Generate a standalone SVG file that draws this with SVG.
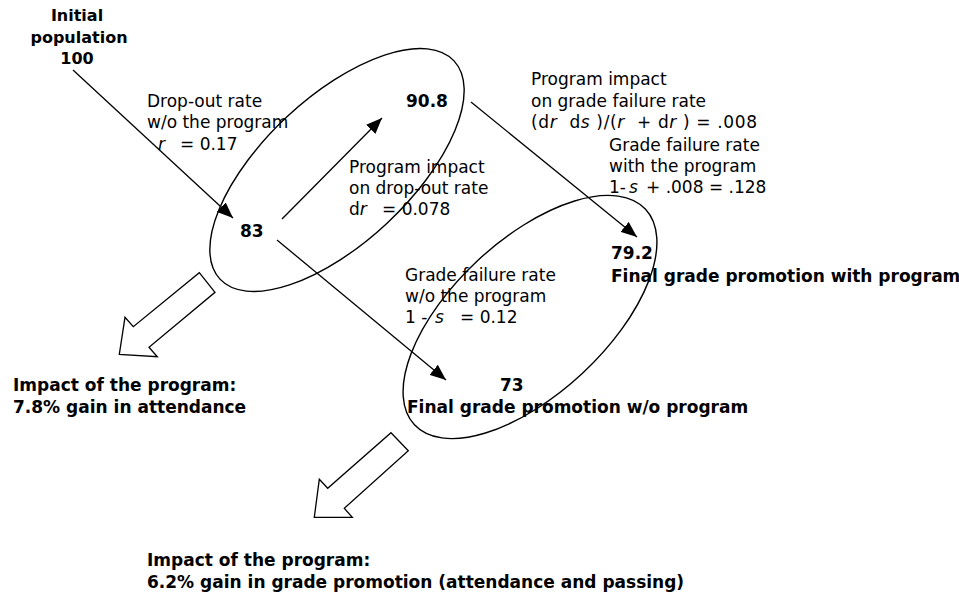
<svg xmlns="http://www.w3.org/2000/svg" width="959" height="594" viewBox="0 0 959 594">
<defs>
<style>
text{font-family:"DejaVu Sans",Verdana,sans-serif;font-size:17px;fill:#000}
.b{font-weight:bold}
.i{font-style:italic}
.s16{font-size:16px}
.ln{stroke:#000;stroke-width:1.3;fill:none}
.el{stroke:#000;stroke-width:1.4;fill:none}
.blk{stroke:#000;stroke-width:1.3;fill:#fff;stroke-linejoin:miter}
</style>
<marker id="ah" markerUnits="userSpaceOnUse" markerWidth="17" markerHeight="13" refX="16" refY="6.5" orient="auto">
<path d="M0,0 L16,6.5 L0,13 z" fill="#000"/>
</marker>
</defs>
<rect width="959" height="594" fill="#fff"/>
<g id="ellipses">
<ellipse id="ellipse-attendance" class="el" cx="337" cy="170" rx="160" ry="73" transform="rotate(-43 337 170)"/>
<ellipse id="ellipse-promotion" class="el" cx="530" cy="317" rx="158" ry="77" transform="rotate(-43 530 317)"/>
</g>
<g id="connectors">
<line class="ln" x1="73" y1="70" x2="233" y2="218" marker-end="url(#ah)"/>
<line class="ln" x1="282" y1="219" x2="382" y2="118" marker-end="url(#ah)"/>
<line class="ln" x1="471" y1="102" x2="637" y2="237" marker-end="url(#ah)"/>
<line class="ln" x1="277" y1="240" x2="446" y2="380" marker-end="url(#ah)"/>
</g>
<g id="impact-arrows">
<polygon class="blk" points="199.3,272.7 215,292.3 149,347.3 157.3,356.7 119.3,354.3 125,317.3 133.3,326.7"/>
<polygon class="blk" points="391,432.7 408.3,450.7 344.3,508.3 352.3,517.3 314.3,517.3 319.3,479.3 327.7,488.3"/>
</g>
<g id="node-initial">
<text class="b s16" text-anchor="middle"><tspan x="77" y="21">Initial</tspan><tspan x="79" y="43">population</tspan><tspan x="77" y="64">100</tspan></text>
</g>
<g id="label-dropout">
<text><tspan x="147" y="107">Drop-out rate</tspan><tspan x="147" y="128">w/o the program</tspan></text>
<text y="150"><tspan class="i" x="158">r</tspan><tspan x="180">= 0.17</tspan></text>
</g>
<g id="node-83"><text class="b" x="240" y="237">83</text></g>
<g id="node-90-8"><text class="b" x="406" y="107">90.8</text></g>
<g id="label-impact-dropout">
<text><tspan x="349" y="173">Program impact</tspan><tspan x="349" y="194">on drop-out rate</tspan></text>
<text y="215"><tspan x="349">d</tspan><tspan class="i">r</tspan><tspan x="382">= 0.078</tspan></text>
</g>
<g id="label-impact-failure">
<text><tspan x="531" y="85">Program impact</tspan><tspan x="531" y="107">on grade failure rate</tspan></text>
<text x="531" y="128" xml:space="preserve" textLength="226" lengthAdjust="spacing">(d<tspan class="i">r</tspan>  d<tspan class="i">s</tspan> )/(<tspan class="i">r</tspan>  + d<tspan class="i">r</tspan> ) = .008</text>
</g>
<g id="label-failure-with">
<text><tspan x="609" y="151">Grade failure rate</tspan><tspan x="609" y="172">with the program</tspan></text>
<text y="193"><tspan x="609">1-</tspan><tspan class="i" x="629">s</tspan><tspan x="646">+ .008 = .128</tspan></text>
</g>
<g id="node-79-2">
<text class="b"><tspan x="611" y="259">79.2</tspan><tspan x="611" y="282">Final grade promotion with program</tspan></text>
</g>
<g id="label-failure-without">
<text><tspan x="405" y="281">Grade failure rate</tspan><tspan x="405" y="302">w/o the program</tspan></text>
<text y="323"><tspan x="405">1 -</tspan><tspan class="i" x="435">s</tspan><tspan x="460">= 0.12</tspan></text>
</g>
<g id="node-73">
<text class="b"><tspan x="500" y="391">73</tspan><tspan x="407" y="413">Final grade promotion w/o program</tspan></text>
</g>
<g id="impact-attendance">
<text class="b"><tspan x="13" y="391">Impact of the program:</tspan><tspan x="13" y="413">7.8% gain in attendance</tspan></text>
</g>
<g id="impact-promotion">
<text class="b"><tspan x="147" y="566">Impact of the program:</tspan><tspan x="147" y="588">6.2% gain in grade promotion (attendance and passing)</tspan></text>
</g>
</svg>
